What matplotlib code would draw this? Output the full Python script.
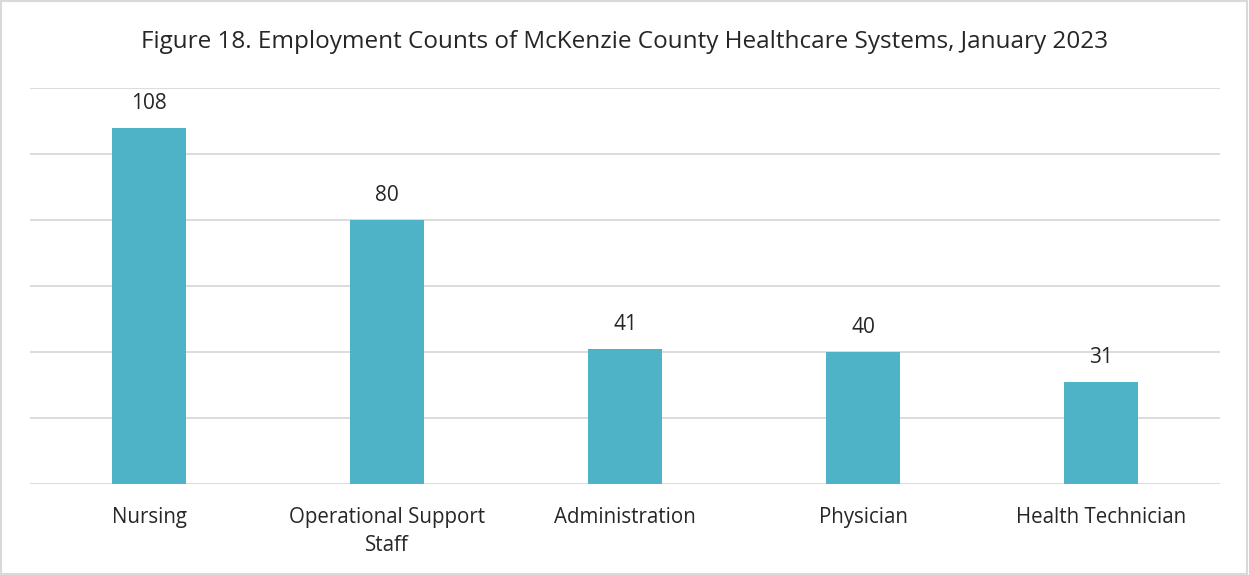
import matplotlib
matplotlib.use("Agg")
import matplotlib.pyplot as plt
from matplotlib.patches import Rectangle

categories = ["Nursing", "Operational Support\nStaff", "Administration", "Physician", "Health Technician"]
values = [108, 80, 41, 40, 31]
title = "Figure 18. Employment Counts of McKenzie County Healthcare Systems, January 2023"

plt.rcParams['font.family'] = ['Open Sans', 'DejaVu Sans']

fig = plt.figure(figsize=(12.49, 5.75), dpi=100)
ax = fig.add_axes([30/1249, 1-484/575, 1190/1249, 396/575])
x = list(range(len(categories)))
bars = ax.bar(x, values, width=0.31, color="#4FB3C8", zorder=3)
ax.set_xlim(-0.5, len(categories)-0.5)
ax.set_ylim(0, 120)
ax.set_yticks(range(0, 121, 20))
ax.yaxis.grid(True, color="#D9D9D9", linewidth=1.3, zorder=0)
ax.tick_params(axis='y', left=False, labelleft=False)
ax.tick_params(axis='x', bottom=False, pad=13)
ax.set_xticks(x)
ax.set_xticklabels(categories, fontsize=14.8, color="#262626", linespacing=1.45)
for s in ax.spines.values():
    s.set_visible(False)
for xi, v in zip(x, values):
    ax.annotate(str(v), (xi, v), xytext=(0, 10), textcoords='offset points',
                ha='center', va='bottom', fontsize=15, color="#262626")
fig.text(0.5, 1-42/575, title, ha='center', va='center', fontsize=17.5, color="#262626")
fig.patches.append(Rectangle((0.001, 0.001), 0.997, 0.997, transform=fig.transFigure,
                             fill=False, edgecolor="#D9D9D9", linewidth=1.5))
fig.savefig("out.png", dpi=100, facecolor="white")
